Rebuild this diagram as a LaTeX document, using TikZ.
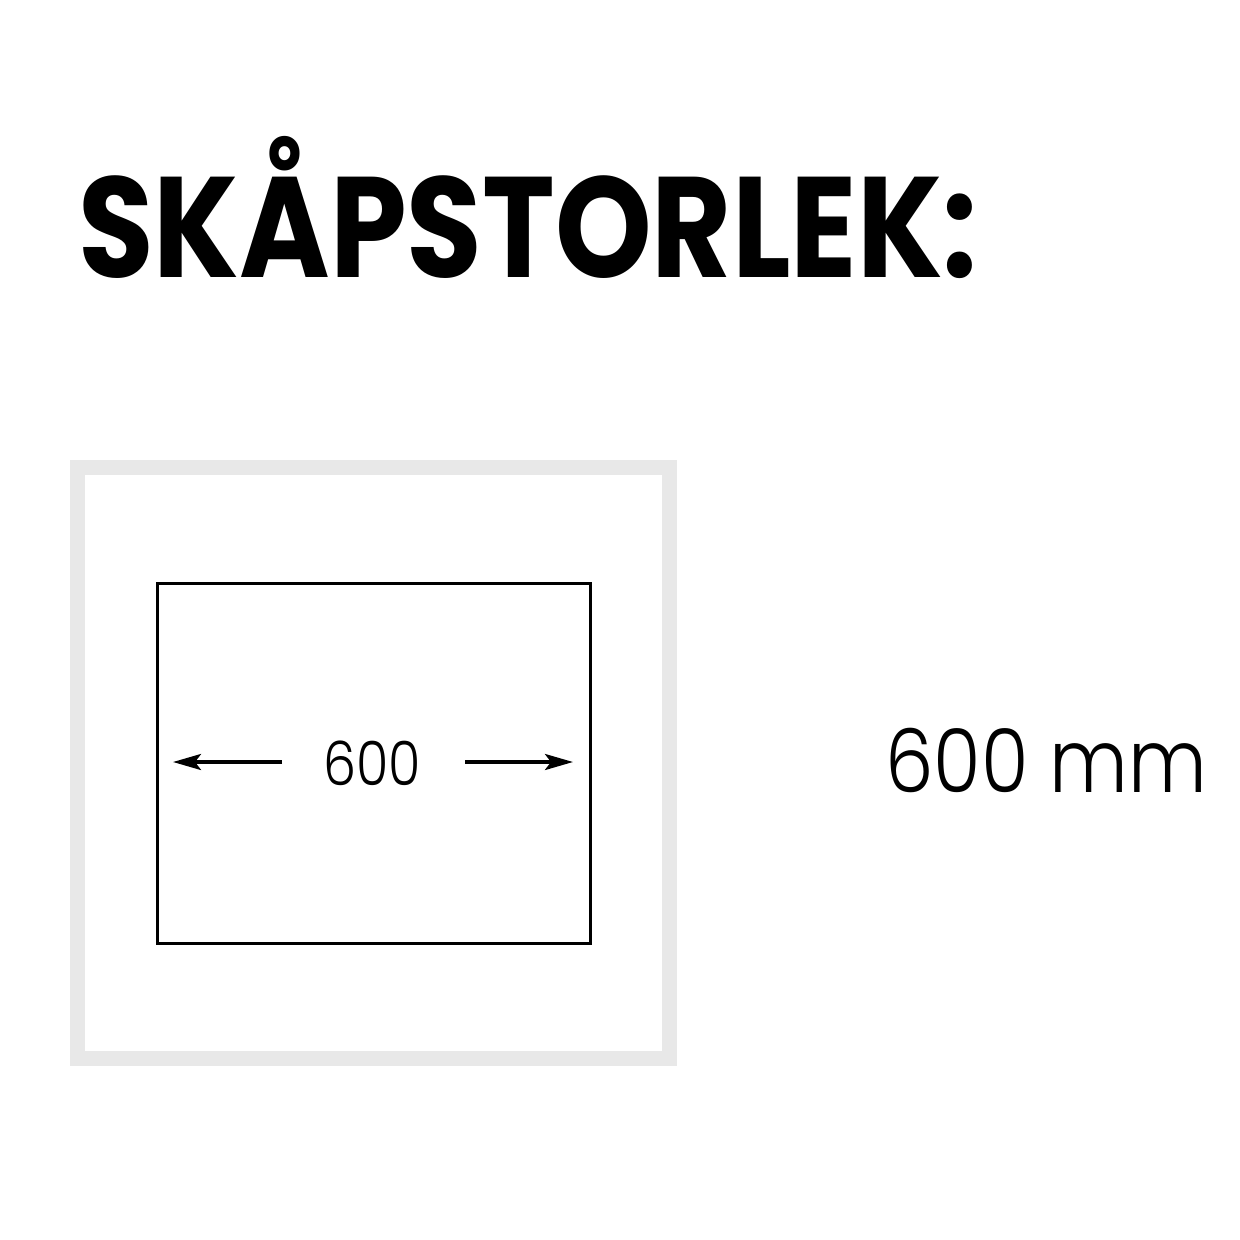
\documentclass[tikz,border=0pt]{standalone}
\usepackage{fontspec}
\setmainfont{Poppins}
\newfontfamily\titlefont{Poppins}[BoldFont=* Bold]
\newfontfamily\lightfont{Poppins}[UprightFont=* Light]
\usetikzlibrary{arrows.meta}
\begin{document}
\begin{tikzpicture}[x=1pt,y=-1pt,
  frame/.style={draw=black!9,line width=15pt},
  cabinet/.style={draw=black,line width=3pt},
  dimarrow/.style={draw=black,line width=3.5pt,-{Stealth[length=28pt,width=16pt,inset=6pt]}},
  txt/.style={inner sep=0pt,anchor=base west}]
\useasboundingbox (0,0) rectangle (1240,1240);
\node[txt,xscale=0.86] (title) at (78,277) {\titlefont\bfseries\fontsize{143}{143}\selectfont SKÅPSTORLEK:};
\draw[frame] (77.5,467.5) rectangle (669.5,1058.5);
\draw[cabinet] (157,583) rectangle (590,943);
\node[inner sep=0pt,anchor=base,xscale=0.86] (dim) at (372,785) {\lightfont\fontsize{61}{61}\selectfont 600};
\coordinate (ls) at (282,762);
\coordinate (le) at (173,762);
\coordinate (rs) at (465,762);
\coordinate (re) at (573,762);
\draw[dimarrow] (ls) -- (le);
\draw[dimarrow] (rs) -- (re);
\node[txt,xscale=0.875] (size) at (885,792) {\lightfont\fontsize{88}{88}\selectfont 600 mm};
\end{tikzpicture}
\end{document}
